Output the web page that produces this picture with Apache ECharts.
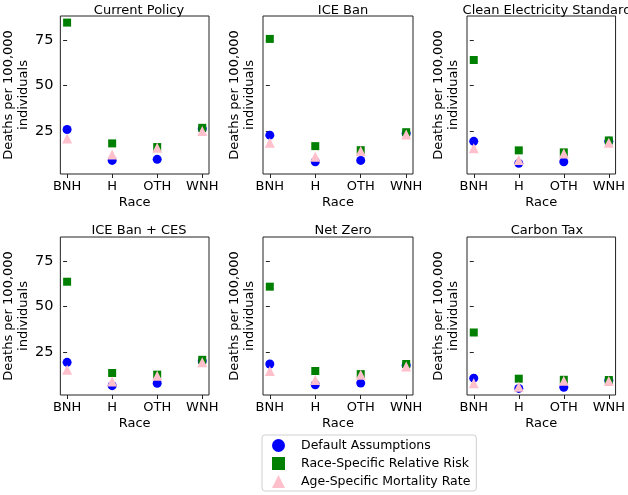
<!DOCTYPE html>
<html>
<head>
<meta charset="utf-8">
<script src="https://cdn.jsdelivr.net/npm/echarts@6/dist/echarts.min.js"></script>
<style>
html,body{margin:0;padding:0;background:#fff;}
#chart{width:628px;height:495px;}
</style>
</head>
<body>
<div id="chart"></div>
<script>
var categories = ['BNH', 'H', 'OTH', 'WNH'];
var panelTitles = ['Current Policy', 'ICE Ban', 'Clean Electricity Standard', 'ICE Ban + CES', 'Net Zero', 'Carbon Tax'];
var seriesNames = ['Default Assumptions', 'Race-Specific Relative Risk', 'Age-Specific Mortality Rate'];
var yTicks = [25, 50, 75];

// values per panel, order: BNH, H, OTH, WNH
var defaultAssumptions = [
  [26.1, 9.2, 9.8, 26.5],
  [23.0, 8.5, 9.2, 24.0],
  [19.6, 7.6, 8.5, 19.6],
  [19.6, 6.9, 8.2, 20.3],
  [18.7, 7.4, 8.3, 18.0],
  [11.0, 5.4, 6.0, 9.7]
];
var raceSpecificRR = [
  [84.4, 18.5, 16.5, 27.0],
  [75.5, 17.0, 14.8, 24.6],
  [64.0, 14.7, 13.6, 20.1],
  [63.6, 13.8, 12.9, 21.0],
  [60.9, 14.9, 13.2, 18.7],
  [35.9, 10.7, 10.1, 10.0]
];
var ageSpecificMR = [
  [21.1, 12.5, 16.1, 25.2],
  [18.9, 11.2, 14.3, 23.4],
  [15.8, 9.4, 13.0, 18.9],
  [15.6, 9.2, 12.3, 19.6],
  [14.9, 10.0, 12.9, 17.4],
  [8.2, 6.3, 9.6, 9.4]
];

var FONT = 'DejaVu Sans';
var lefts = [59, 263, 467];
var tops = [16, 237];
var W = 150, H = 158;
var frame = '#222';

var grids = [], xAxes = [], yAxes = [], titles = [], series = [];
var colors = ['#0000ff', '#008000', '#ffc0cb'];
var symbols = ['circle', 'rect', 'triangle'];
var sizes = [9, 8, 10];
var sets = [defaultAssumptions, raceSpecificRR, ageSpecificMR];

for (var p = 0; p < 6; p++) {
  var col = p % 3, row = Math.floor(p / 3);
  grids.push({left: lefts[col], top: tops[row], width: W, height: H, show: true,
    borderColor: frame, borderWidth: 1, backgroundColor: 'transparent', containLabel: false});
  titles.push({text: panelTitles[p], left: lefts[col] + W / 2, top: row === 0 ? -1 : 219, textAlign: 'center',
    textStyle: {fontFamily: FONT, fontSize: 13, fontWeight: 'normal', color: '#000'}});
  xAxes.push({type: 'value', gridIndex: p, min: -0.15, max: 3.15,
    name: 'Race', nameLocation: 'middle', nameGap: 22,
    nameTextStyle: {fontFamily: FONT, fontSize: 13, color: '#000'},
    axisLine: {show: false}, splitLine: {show: false},
    axisTick: {show: true, length: 4, customValues: [0, 1, 2, 3], lineStyle: {color: frame}},
    axisLabel: {customValues: [0, 1, 2, 3], formatter: function (v) { return categories[Math.round(v)]; },
      fontFamily: FONT, fontSize: 13, color: '#000', margin: 6}
  });
  yAxes.push({type: 'value', gridIndex: p, min: 1.8, max: 88,
    name: 'Deaths per 100,000\nindividuals', nameLocation: 'middle', nameRotate: 90,
    nameGap: col === 0 ? 27 : 6,
    nameTextStyle: {fontFamily: FONT, fontSize: 13, color: '#000', lineHeight: 15},
    axisLine: {show: false}, splitLine: {show: false},
    axisTick: {show: true, length: 4, customValues: yTicks, lineStyle: {color: frame}},
    axisLabel: {show: col === 0, customValues: yTicks, fontFamily: FONT, fontSize: 14.5, color: '#000', margin: 7}
  });
  for (var s = 0; s < 3; s++) {
    series.push({
      name: seriesNames[s], type: 'scatter', xAxisIndex: p, yAxisIndex: p,
      symbol: symbols[s], symbolSize: sizes[s],
      itemStyle: {color: colors[s], opacity: 1},
      emphasis: {disabled: true},
      data: sets[s][p].map(function (v, i) { return [i, v]; })
    });
  }
}

var chart = echarts.init(document.getElementById('chart'), null, {renderer: 'canvas'});
chart.setOption({
  animation: false,
  backgroundColor: '#fff',
  title: titles,
  grid: grids,
  xAxis: xAxes,
  yAxis: yAxes,
  legend: {
    data: seriesNames.map(function (n, i) { return {name: n, icon: symbols[i], itemStyle: {color: colors[i]}}; }),
    orient: 'vertical', left: 262, top: 435,
    itemWidth: 13, itemHeight: 13, itemGap: 5,
    padding: [4, 6, 3, 10],
    borderColor: '#d0d0d0', borderWidth: 1, borderRadius: 3,
    textStyle: {fontFamily: FONT, fontSize: 12.5, color: '#000', padding: [0, 0, 0, 11]},
    selectedMode: false
  },
  series: series
});
</script>
</body>
</html>
